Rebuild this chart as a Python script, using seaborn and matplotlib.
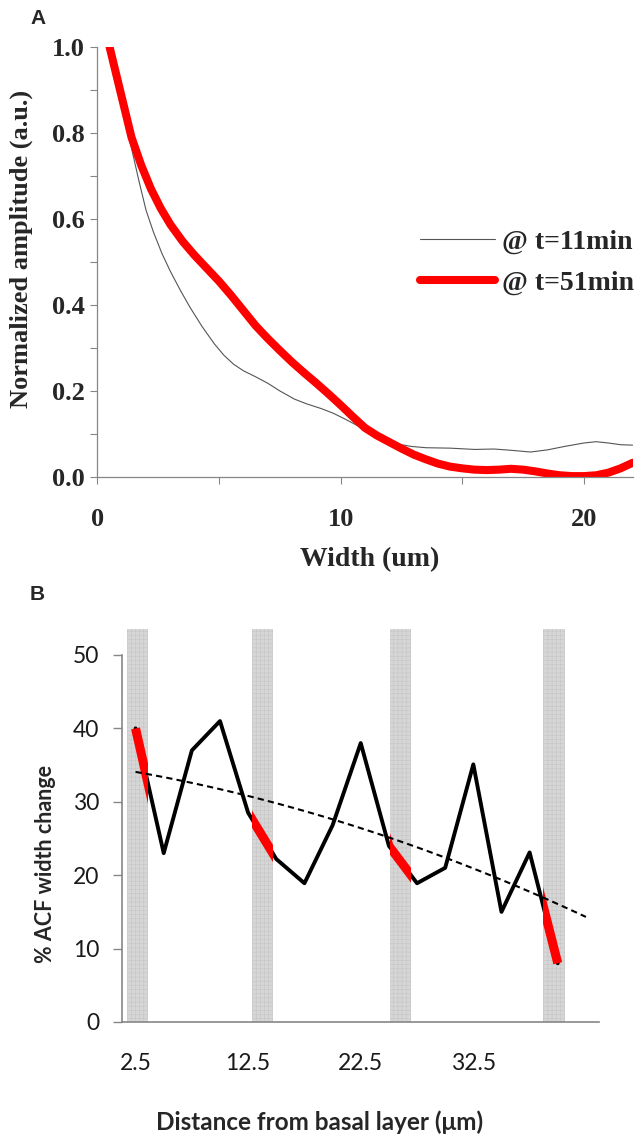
import numpy as np
import matplotlib
matplotlib.use("Agg")
import matplotlib.pyplot as plt
import seaborn as sns
from matplotlib.ticker import MultipleLocator, FormatStrFormatter

# panel A: autocorrelation profiles
width_51 = [0.5, 0.8, 1.1, 1.4, 1.8, 2.2, 2.6, 3.0, 3.5, 4.0, 4.5, 5.0, 5.5,
            6.0, 6.5, 7.0, 7.5, 8.0, 8.5, 9.0, 9.5, 10.0, 10.5, 11.0, 11.5,
            12.0, 12.5, 13.0, 13.5, 14.0, 14.5, 15.0, 15.5, 16.0, 16.5, 17.0,
            17.5, 18.0, 18.5, 19.0, 19.5, 20.0, 20.5, 21.0, 21.5, 22.0]
amp_51 = [1.0, 0.93, 0.86, 0.79, 0.725, 0.67, 0.625, 0.587, 0.548, 0.515,
          0.485, 0.455, 0.422, 0.387, 0.352, 0.322, 0.294, 0.267, 0.242,
          0.218, 0.193, 0.167, 0.14, 0.114, 0.096, 0.081, 0.066, 0.052, 0.041,
          0.031, 0.024, 0.02, 0.017, 0.016, 0.017, 0.019, 0.017, 0.013, 0.008,
          0.004, 0.002, 0.002, 0.004, 0.01, 0.02, 0.033]
width_11 = [0.5, 0.8, 1.1, 1.4, 1.7, 2.0, 2.3, 2.65, 3.0, 3.4, 3.8, 4.3, 4.8,
            5.2, 5.6, 6.0, 6.5, 7.0, 7.5, 8.1, 8.6, 9.2, 9.7, 10.2, 10.7, 11.2,
            11.7, 12.3, 12.9, 13.5, 14.5, 15.5, 16.3, 17.0, 17.8, 18.5, 19.2,
            20.0, 20.5, 21.0, 21.5, 22.0]
amp_11 = [1.0, 0.92, 0.84, 0.765, 0.69, 0.62, 0.57, 0.52, 0.478, 0.435, 0.395,
          0.35, 0.31, 0.283, 0.262, 0.247, 0.233, 0.218, 0.2, 0.181, 0.17,
          0.159, 0.148, 0.134, 0.119, 0.103, 0.089, 0.077, 0.071, 0.068, 0.067,
          0.064, 0.065, 0.062, 0.058, 0.063, 0.071, 0.079, 0.082, 0.079,
          0.075, 0.074]
legend_labels = ["@ t=11min", "@ t=51min"]

# panel B: ACF width change vs depth
depth = [2.5, 5.0, 7.5, 10.0, 12.5, 15.0, 17.5, 20.0, 22.5, 25.0, 27.5, 30.0,
         32.5, 35.0, 37.5, 40.0]
acf_change = [40, 23, 37, 41, 28.5, 22.2, 18.9, 26.8, 38, 24, 18.9, 21, 35.1,
              15, 23.1, 8]
band_lo = [1.75, 12.85, 25.1, 38.7]
band_hi = [3.6, 14.7, 27.0, 40.6]
depth_ticks = [2.5, 12.5, 22.5, 32.5]

sns.set_style("ticks")
serif = ["Liberation Serif", "DejaVu Serif"]
sans = ["Lato", "DejaVu Sans"]
grey = "#868686"

fig = plt.figure(figsize=(6.4, 11.34), dpi=100)

# ---- A ----
axA = fig.add_axes([0.1522, 0.5794, 0.8364, 0.3792])
sns.lineplot(x=width_11, y=amp_11, ax=axA, color="#555555", lw=0.8,
             label=legend_labels[0], sort=False)
sns.lineplot(x=width_51, y=amp_51, ax=axA, color="#ff0000", lw=5.8,
             label=legend_labels[1], sort=False)
axA.set_xlim(0, 22)
axA.set_ylim(0, 1.0)
axA.xaxis.set_major_locator(MultipleLocator(10))
axA.xaxis.set_minor_locator(MultipleLocator(5))
axA.yaxis.set_major_locator(MultipleLocator(0.2))
axA.yaxis.set_minor_locator(MultipleLocator(0.1))
axA.yaxis.set_major_formatter(FormatStrFormatter("%.1f"))
axA.xaxis.set_major_formatter(FormatStrFormatter("%d"))
axA.tick_params(which="both", direction="out", length=5, width=0.8, color=grey)
axA.tick_params(axis="y", pad=4)
axA.tick_params(axis="x", pad=17)
for lab in axA.get_xticklabels() + axA.get_yticklabels():
    lab.set_family(serif)
    lab.set_fontweight("bold")
    lab.set_fontsize(19)
for s in ["top", "right"]:
    axA.spines[s].set_visible(False)
for s in ["left", "bottom"]:
    axA.spines[s].set_color(grey)
    axA.spines[s].set_linewidth(0.9)
axA.set_ylabel("Normalized amplitude (a.u.)", family=serif, fontweight="bold",
               fontsize=19)
axA.yaxis.set_label_coords(-0.12, 0.53)
axA.set_xlabel("Width (um)", family=serif, fontweight="bold", fontsize=20)
axA.xaxis.set_label_coords(0.509, -0.163)
axA.legend(loc="upper left", bbox_to_anchor=(0.603, 0.575), frameon=False,
           prop=dict(family=serif, weight="bold", size=20), handlelength=2.7,
           handletextpad=0.25, borderpad=0, borderaxespad=0, labelspacing=0.55)

# ---- B ----
axB = fig.add_axes([0.1914, 0.0988, 0.7452, 0.3236])
axB.set_xlim(1.34, 43.7)
axB.set_ylim(0, 50)
plt.rcParams["hatch.linewidth"] = 0.4
bands = []
for lo, hi in zip(band_lo, band_hi):
    p = axB.axvspan(lo, hi, ymin=0, ymax=1.07, facecolor="#d6d6d6",
                    edgecolor="#c6c6c6", hatch="++++", lw=0, clip_on=False,
                    zorder=0)
    bands.append(p)

sns.lineplot(x=depth, y=acf_change, ax=axB, color="black", lw=2.8, zorder=3)
for p in bands:
    ln, = axB.plot(depth, acf_change, color="#ff0000", lw=6.5,
                   solid_capstyle="butt", zorder=4)
    ln.set_clip_path(p)

coef = np.polyfit(depth, acf_change, 2)
trend_x = np.linspace(depth[0], depth[-1] + 2.5, 60)
sns.lineplot(x=trend_x, y=np.polyval(coef, trend_x), ax=axB, color="black",
             lw=1.5, linestyle=(0, (3, 2)), zorder=5)

axB.set_xticks(depth_ticks)
axB.set_xticklabels([str(t) for t in depth_ticks])
axB.set_yticks(range(0, 51, 10))
axB.tick_params(axis="x", length=0, pad=22)
axB.tick_params(axis="y", direction="out", length=6.5, width=1, color=grey,
                pad=10)
for lab in axB.get_xticklabels() + axB.get_yticklabels():
    lab.set_family(sans)
    lab.set_fontsize(16.5)
    lab.set_color("#1a1a1a")
for s in ["top", "right"]:
    axB.spines[s].set_visible(False)
for s in ["left", "bottom"]:
    axB.spines[s].set_color(grey)
    axB.spines[s].set_linewidth(1.2)
axB.set_ylabel("% ACF width change", family=sans, fontweight="bold",
               fontsize=15.5)
axB.yaxis.set_label_coords(-0.14, 0.43)
axB.set_xlabel("Distance from basal layer (\u03bcm)", family=sans,
               fontweight="bold", fontsize=17.5)
axB.xaxis.set_label_coords(0.414, -0.24)

fig.text(38 / 640, 1 - 19 / 1134, "A", family=["Liberation Sans"],
         fontweight="bold", fontsize=15, ha="center", va="center")
fig.text(37 / 640, 1 - 595 / 1134, "B", family=["Liberation Sans"],
         fontweight="bold", fontsize=15, ha="center", va="center")

fig.savefig("out.png", dpi=100)
